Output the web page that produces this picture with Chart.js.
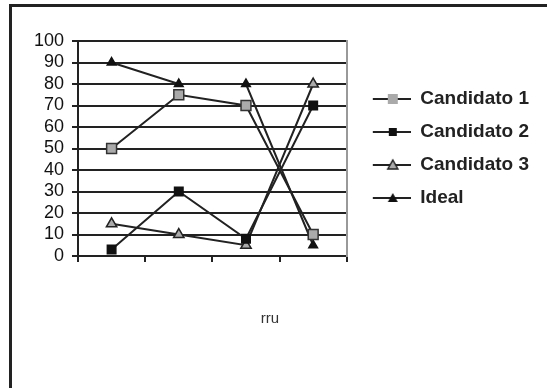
<!DOCTYPE html>
<html>
<head>
<meta charset="utf-8">
<script src="https://cdn.jsdelivr.net/npm/chart.js@4.4.1/dist/chart.umd.min.js"></script>
<style>
  body { margin: 0; background: #fff; }
  #frame {
    position: absolute; left: 9px; top: 4px; width: 538px; height: 382px;
    border-top: 3px solid #222; border-left: 3px solid #222; border-bottom: 1px solid #ccc;
  }
  #wrap { position: absolute; left: 0; top: 0; width: 535px; height: 380px; }
</style>
</head>
<body>
<div id="frame"><div id="wrap"><canvas id="chart"></canvas></div></div>
<script>
// chart data
const categories = ['', '', '', ''];
const candidato1 = [50, 75, 70, 10];
const candidato2 = [3, 30, 8, 70];
const candidato3 = [15, 10, 5, 80];
const ideal = [90, 80, 80, 5];
const yTicks = [0, 10, 20, 30, 40, 50, 60, 70, 80, 90, 100];
const axisTitle = 'rru';

// little legend sample: line with marker in the middle
function legendSample(shape, fill, stroke){
    const c = document.createElement('canvas');
    c.width = 48; c.height = 14;
    const g = c.getContext('2d');
    g.strokeStyle = '#222';
    g.lineWidth = 2;
    g.beginPath(); g.moveTo(10, 7); g.lineTo(48, 7); g.stroke();
    const cx = 30, cy = 7;
    g.fillStyle = fill;
    g.beginPath();
    if (shape === 'rect') {
        const s = fill === '#aaa' ? 5 : 4;
        g.rect(cx - s, cy - s, s * 2, s * 2);
    } else {
        g.moveTo(cx, cy - 5); g.lineTo(cx + 5, cy + 4); g.lineTo(cx - 5, cy + 4); g.closePath();
    }
    g.fill();
    if (stroke) { g.lineWidth = 1.5; g.strokeStyle = stroke; g.stroke(); }
    return c;
}

const samples = [
    legendSample('rect', '#aaa', null),
    legendSample('rect', '#111', null),
    legendSample('tri', '#aaa', '#222'),
    legendSample('tri', '#111', null)
];

const titlePlugin = {
    id: 'rruTitle',
    afterDraw(chart){
        const ctx = chart.ctx;
        ctx.save();
        ctx.font = '15px "Liberation Sans", Arial, sans-serif';
        ctx.fillStyle = '#333';
        ctx.textAlign = 'center';
        ctx.textBaseline = 'alphabetic';
        ctx.fillText(axisTitle, 258, 316);
        ctx.restore();
    }
};

function ds(label, data, style, bg, border, radius){
    return {
        label: label,
        data: data,
        borderColor: '#222',
        borderWidth: 2,
        pointStyle: style,
        pointRadius: radius,
        pointBackgroundColor: bg,
        pointBorderColor: border,
        pointBorderWidth: 1.5,
        tension: 0,
        fill: false
    };
}

new Chart(document.getElementById('chart'), {
    type: 'line',
    data: {
        labels: categories,
        datasets: [
            ds('Candidato 1', candidato1, 'rect', '#aaa', '#333', 7),
            ds('Candidato 2', candidato2, 'rect', '#111', '#111', 6),
            ds('Candidato 3', candidato3, 'triangle', '#aaa', '#222', 6),
            ds('Ideal', ideal, 'triangle', '#111', '#111', 5)
        ]
    },
    options: {
        responsive: true,
        maintainAspectRatio: false,
        animation: false,
        layout: { padding: { top: 34, bottom: 131, left: 0, right: 8 } },
        plugins: {
            tooltip: { enabled: false },
            legend: {
                position: 'right',
                maxWidth: 200,
                labels: {
                    usePointStyle: true,
                    pointStyleWidth: 48,
                    padding: 14,
                    color: '#222',
                    font: { family: '"Liberation Sans", Arial, sans-serif', size: 19, weight: 'bold' },
                    generateLabels(chart){
                        return chart.data.datasets.map((d, i) => ({
                            text: d.label,
                            pointStyle: samples[i],
                            fontColor: '#222',
                            lineWidth: 0,
                            hidden: false,
                            datasetIndex: i
                        }));
                    }
                }
            }
        },
        scales: {
            x: {
                type: 'category',
                offset: true,
                grid: { offset: true, drawOnChartArea: false, drawTicks: true, tickLength: 6, color: '#222', lineWidth: 2 },
                border: { color: '#222', width: 2 },
                ticks: { display: false },
                afterFit(scale){ scale.height = 0; }
            },
            y: {
                min: 0,
                max: 100,
                afterBuildTicks(scale){ scale.ticks = yTicks.map(v => ({ value: v })); },
                grid: { color: '#222', lineWidth: 2, tickLength: 6 },
                border: { color: '#222', width: 2 },
                ticks: {
                    color: '#111',
                    padding: 8,
                    autoSkip: false,
                    font: { family: '"Liberation Sans", Arial, sans-serif', size: 18 }
                },
                afterFit(scale){ scale.width = 66; }
            },
            y2: {
                position: 'right',
                min: 0,
                max: 100,
                grid: { drawOnChartArea: false, drawTicks: false },
                border: { color: '#999', width: 2 },
                ticks: { display: false },
                afterFit(scale){ scale.width = 2; }
            }
        }
    },
    plugins: [titlePlugin]
});
</script>
</body>
</html>
